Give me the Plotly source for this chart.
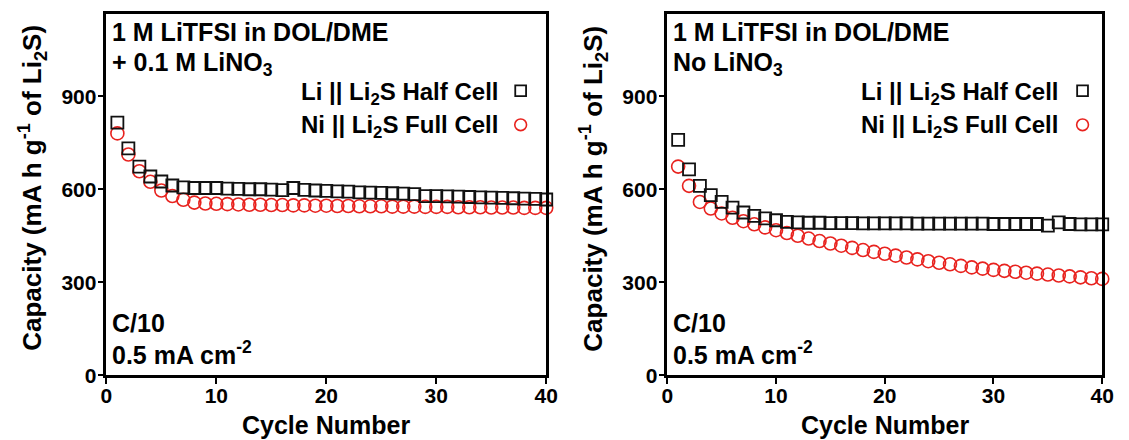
import plotly.graph_objects as go

W, H = 1129, 440

cycles = list(range(1, 41))

# Left panel: 1 M LiTFSI in DOL/DME + 0.1 M LiNO3
left_half = [815, 732, 673, 641, 625, 612, 606, 604, 604, 604,
             602, 601, 600, 600, 599, 597, 604, 598, 596, 595,
             593, 592, 590, 589, 588, 587, 586, 584, 578, 578,
             577, 576, 575, 574, 573, 572, 571, 570, 569, 567]
left_full = [780, 712, 658, 624, 596, 578, 566, 557, 554, 553,
             552, 551, 550, 550, 549, 549, 548, 548, 547, 547,
             546, 546, 545, 545, 545, 544, 544, 544, 543, 543,
             543, 542, 542, 542, 541, 541, 541, 540, 540, 540]

# Right panel: 1 M LiTFSI in DOL/DME, no LiNO3
right_half = [759, 664, 611, 581, 559, 541, 525, 514, 506, 500,
              495, 493, 492, 492, 491, 491, 491, 490, 490, 490,
              490, 490, 489, 489, 489, 489, 489, 489, 489, 488,
              488, 488, 488, 488, 483, 493, 488, 487, 487, 487]
right_full = [673, 611, 559, 538, 522, 508, 497, 487, 477, 468,
              459, 450, 441, 433, 425, 418, 411, 404, 398, 392,
              386, 380, 374, 368, 363, 358, 353, 348, 344, 340,
              337, 334, 331, 328, 325, 322, 319, 316, 313, 311]

x_ticks = [0, 10, 20, 30, 40]
y_ticks = [0, 300, 600, 900]

FONT = "Liberation Sans, Arial, sans-serif"
RED = "#e8221e"
BLACK = "#111111"


def px(x):
    return x / W


def py(y):
    return 1 - y / H


fig = go.Figure()

panels = [
    dict(half=left_half, full=left_full, xa="x", ya="y", x0=102, x1=549,
         line2="+ 0.1 M LiNO<sub>3</sub>", leg_right=502, sym=523),
    dict(half=right_half, full=right_full, xa="x2", ya="y2", x0=672, x1=1114,
         line2="No LiNO<sub>3</sub>", leg_right=1071, sym=1094),
]

for p in panels:
    fig.add_trace(go.Scatter(
        x=cycles, y=p["full"], xaxis=p["xa"], yaxis=p["ya"], mode="markers",
        marker=dict(symbol="circle-open", size=13, color=RED, line=dict(width=1.6, color=RED)),
        cliponaxis=False, showlegend=False))
    fig.add_trace(go.Scatter(
        x=cycles, y=p["half"], xaxis=p["xa"], yaxis=p["ya"], mode="markers",
        marker=dict(symbol="square-open", size=12, color=BLACK, line=dict(width=1.8, color=BLACK)),
        cliponaxis=False, showlegend=False))

top_px, bot_px = 14, 385
ydom = [py(bot_px), py(top_px)]
axis_common = dict(
    showline=True, linecolor="black", linewidth=2.5, mirror=True,
    ticks="outside", ticklen=6, tickwidth=2, tickcolor="black",
    showgrid=False, zeroline=False,
    tickfont=dict(family=FONT, size=21, color="black", weight="bold"),
)

fig.update_layout(
    width=W, height=H,
    margin=dict(l=0, r=0, t=0, b=0),
    paper_bgcolor="white", plot_bgcolor="white",
    xaxis=dict(domain=[px(102), px(549)], range=[0, 40], tickvals=x_ticks,
               anchor="y", ticklabelstandoff=-6, **axis_common),
    yaxis=dict(domain=ydom, range=[0, 1166], tickvals=y_ticks, anchor="x",
               ticklabelstandoff=-3, **axis_common),
    xaxis2=dict(domain=[px(672), px(1114)], range=[0, 40], tickvals=x_ticks,
                anchor="y2", ticklabelstandoff=-6, **axis_common),
    yaxis2=dict(domain=ydom, range=[0, 1166], tickvals=y_ticks, anchor="x2",
                ticklabelstandoff=-3, **axis_common),
)

ann = []
shapes = []


def text(x, y, s, size=24, xanchor="left", angle=0):
    ann.append(dict(x=px(x), y=py(y), xref="paper", yref="paper", text=s,
                    showarrow=False, xanchor=xanchor, yanchor="middle",
                    textangle=angle,
                    font=dict(family=FONT, size=size, color="black", weight="bold")))


for p in panels:
    x0, x1 = p["x0"], p["x1"]
    text(x0 + 4, 33, "1 M LiTFSI in DOL/DME", size=25)
    text(x0 + 4, 66, p["line2"], size=25)
    text(p["leg_right"], 96, "Li || Li<sub>2</sub>S Half Cell", xanchor="right")
    text(p["leg_right"], 130, "Ni || Li<sub>2</sub>S Full Cell", xanchor="right")
    text(x0 + 4, 331, "C/10", size=25)
    text(x0 + 4, 362, "0.5 mA cm<sup>-2</sup>", size=25)
    text((x0 + x1) / 2, 436, "Cycle Number", size=25, xanchor="center")
    text(x0 - 75, 193, "Capacity (mA h g<sup>-1</sup> of Li<sub>2</sub>S)", size=26,
         xanchor="center", angle=-90)
    # legend symbols
    cx = p["sym"]
    shapes.append(dict(type="rect", xref="paper", yref="paper",
                       x0=px(cx - 5.5), x1=px(cx + 5.5), y0=py(93 + 5.5), y1=py(93 - 5.5),
                       line=dict(color=BLACK, width=1.8)))
    shapes.append(dict(type="circle", xref="paper", yref="paper",
                       x0=px(cx - 6), x1=px(cx + 6), y0=py(128 + 6), y1=py(128 - 6),
                       line=dict(color=RED, width=1.6)))

fig.update_layout(annotations=ann, shapes=shapes)

fig.write_html("out.html")
